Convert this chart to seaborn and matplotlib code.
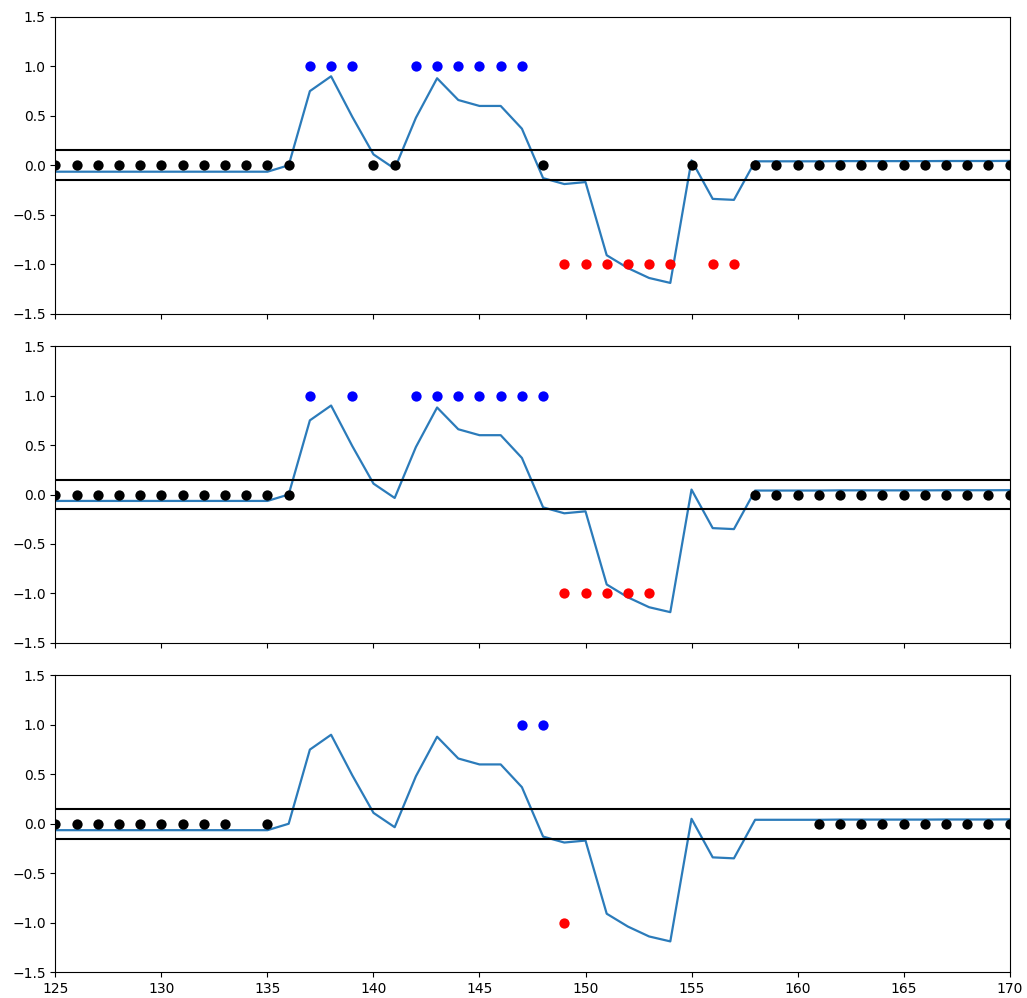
import numpy as np
import pandas as pd
import matplotlib
matplotlib.use("Agg")
import matplotlib.pyplot as plt
import seaborn as sns

# Signal line
x_line = list(range(125, 171))
y_line = [-0.065] * 11 + [0.0, 0.75, 0.90, 0.49, 0.11, -0.035, 0.48, 0.88, 0.66, 0.60, 0.60, 0.37,
          -0.13, -0.19, -0.17, -0.91, -1.04, -1.14, -1.19, 0.05, -0.34, -0.35, 0.04,
          0.04, 0.04, 0.04, 0.042, 0.042, 0.042, 0.042, 0.042, 0.043, 0.043, 0.043, 0.044]

threshold = 0.15

# Classified points per panel: (up, neutral, down)
p1_up = [137, 138, 139, 142, 143, 144, 145, 146, 147]
p1_zero = list(range(125, 137)) + [140, 141, 148, 155] + list(range(158, 171))
p1_down = [149, 150, 151, 152, 153, 154, 156, 157]

p2_up = [137, 139, 142, 143, 144, 145, 146, 147, 148]
p2_zero = list(range(125, 137)) + list(range(158, 171))
p2_down = [149, 150, 151, 152, 153]

p3_up = [147, 148]
p3_zero = list(range(125, 134)) + [135] + list(range(161, 171))
p3_down = [149]

panels = [(p1_up, p1_zero, p1_down), (p2_up, p2_zero, p2_down), (p3_up, p3_zero, p3_down)]

fig, axes = plt.subplots(3, 1, figsize=(10.27, 9.98), dpi=100, sharex=True)
fig.subplots_adjust(left=0.054, right=0.983, top=0.983, bottom=0.026, hspace=0.11)

line_df = pd.DataFrame({"x": x_line, "y": y_line})
for ax, (up, zero, down) in zip(axes, panels):
    sns.lineplot(data=line_df, x="x", y="y", ax=ax, color="#2b7bba", linewidth=1.6)
    ax.axhline(threshold, color="black", linewidth=1.5)
    ax.axhline(-threshold, color="black", linewidth=1.5)
    for xs, val, col in [(up, 1.0, "blue"), (zero, 0.0, "black"), (down, -1.0, "red")]:
        sns.scatterplot(x=xs, y=[val] * len(xs), ax=ax, color=col, s=55, linewidth=0, zorder=3)
    ax.set_xlim(125, 170)
    ax.set_ylim(-1.5, 1.5)
    ax.set_yticks([-1.5, -1.0, -0.5, 0.0, 0.5, 1.0, 1.5])
    ax.set_xlabel("")
    ax.set_ylabel("")

axes[-1].set_xticks(range(125, 171, 5))
fig.savefig("out.png", dpi=100)
